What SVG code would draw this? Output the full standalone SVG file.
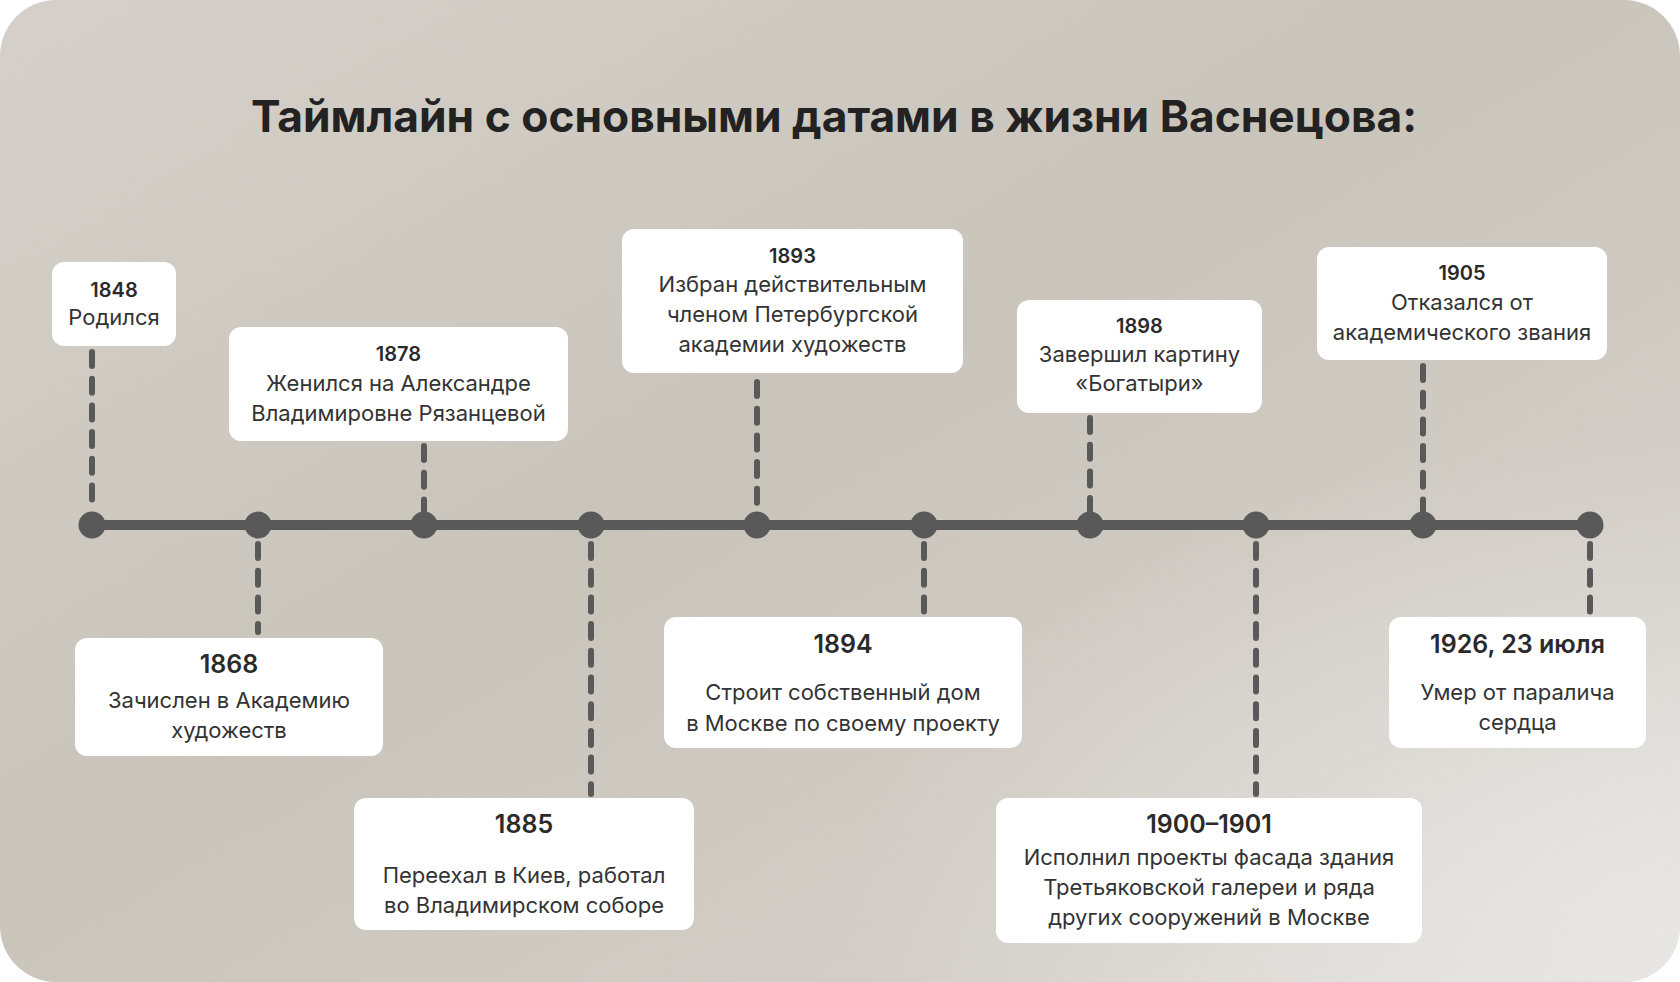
<svg xmlns="http://www.w3.org/2000/svg" width="1680" height="982" viewBox="0 0 1680 982">
  <defs>
    <linearGradient id="bgGrad" x1="0" y1="0" x2="1" y2="1">
      <stop offset="0" stop-color="#d7d3cc"/>
      <stop offset="0.45" stop-color="#cbc6bc"/>
      <stop offset="0.8" stop-color="#d5d1ca"/>
      <stop offset="1" stop-color="#e4e2de"/>
    </linearGradient>
    <radialGradient id="lightBR" cx="1" cy="0.95" r="0.5">
      <stop offset="0" stop-color="#eeecea" stop-opacity="0.9"/>
      <stop offset="1" stop-color="#eeecea" stop-opacity="0"/>
    </radialGradient>
    <filter id="noise" x="0" y="0" width="100%" height="100%">
      <feTurbulence type="fractalNoise" baseFrequency="0.9" numOctaves="2" seed="3" result="n"/>
      <feColorMatrix type="matrix" values="0 0 0 0 0.5  0 0 0 0 0.48  0 0 0 0 0.45  0 0 0 0.18 0"/>
    </filter>
    <clipPath id="bgClip"><rect x="0" y="0" width="1680" height="982" rx="56"/></clipPath>
  </defs>
  <style>
    .box { fill: #ffffff; }
    .yr { font-family: Inter, "Noto Sans", sans-serif; font-weight: 600; fill: #2a2a2a; text-anchor: middle; }
    .yrs { font-size: 20px; }
    .yrl { font-size: 25px; }
    .tx { font-family: Inter, "Noto Sans", sans-serif; font-weight: 400; font-size: 22px; fill: #333333; text-anchor: middle; }
    .dash { stroke: #595959; stroke-width: 6; stroke-linecap: round; stroke-dasharray: 14 12.7; fill: none; }
    .axis { stroke: #595959; stroke-width: 10; stroke-linecap: round; }
    .dot { fill: #595959; }
    .title { font-family: Inter, "Noto Sans", sans-serif; font-weight: 700; font-size: 44.3px; fill: #222222; text-anchor: middle; }
  </style>
  <rect x="0" y="0" width="1680" height="982" fill="#ffffff"/>
  <g clip-path="url(#bgClip)">
    <rect x="0" y="0" width="1680" height="982" fill="url(#bgGrad)"/>
    <rect x="0" y="0" width="1680" height="982" fill="url(#lightBR)"/>
    <rect x="0" y="0" width="1680" height="982" filter="url(#noise)"/>
  </g>

  <text class="title" x="834" y="132">Таймлайн с основными датами в жизни Васнецова:</text>

  <g id="connectors">
    <line class="axis" x1="92" y1="525" x2="1590" y2="525"/>
    <path class="dash" d="M92 352 V512"/>
    <path class="dash" d="M424 446 V512"/>
    <path class="dash" d="M757 382 V512"/>
    <path class="dash" d="M1090 418 V512"/>
    <path class="dash" d="M1423 366 V512"/>
    <path class="dash" d="M258 544 V632"/>
    <path class="dash" d="M591 544 V794"/>
    <path class="dash" d="M924 544 V612"/>
    <path class="dash" d="M1256 544 V794"/>
    <path class="dash" d="M1590 544 V612"/>
    <circle class="dot" cx="92" cy="525" r="13.5"/>
    <circle class="dot" cx="258" cy="525" r="13.5"/>
    <circle class="dot" cx="424" cy="525" r="13.5"/>
    <circle class="dot" cx="591" cy="525" r="13.5"/>
    <circle class="dot" cx="757" cy="525" r="13.5"/>
    <circle class="dot" cx="924" cy="525" r="13.5"/>
    <circle class="dot" cx="1090" cy="525" r="13.5"/>
    <circle class="dot" cx="1256" cy="525" r="13.5"/>
    <circle class="dot" cx="1423" cy="525" r="13.5"/>
    <circle class="dot" cx="1590" cy="525" r="13.5"/>
  </g>

  <g id="n1848">
    <rect class="box" x="52" y="262" width="124" height="84" rx="12"/>
    <text class="yr yrs" x="114" y="297">1848</text>
    <text class="tx" x="114" y="325">Родился</text>
  </g>
  <g id="n1878">
    <rect class="box" x="229" y="327" width="339" height="114" rx="12"/>
    <text class="yr yrs" x="398.5" y="361">1878</text>
    <text class="tx" x="398.5" y="391">Женился на Александре</text>
    <text class="tx" x="398.5" y="421">Владимировне Рязанцевой</text>
  </g>
  <g id="n1893">
    <rect class="box" x="622" y="229" width="341" height="144" rx="12"/>
    <text class="yr yrs" x="792.5" y="263">1893</text>
    <text class="tx" x="792.5" y="292">Избран действительным</text>
    <text class="tx" x="792.5" y="322">членом Петербургской</text>
    <text class="tx" x="792.5" y="352">академии художеств</text>
  </g>
  <g id="n1898">
    <rect class="box" x="1017" y="300" width="245" height="113" rx="12"/>
    <text class="yr yrs" x="1139.5" y="333">1898</text>
    <text class="tx" x="1139.5" y="362">Завершил картину</text>
    <text class="tx" x="1139.5" y="391">«Богатыри»</text>
  </g>
  <g id="n1905">
    <rect class="box" x="1317" y="247" width="290" height="113" rx="12"/>
    <text class="yr yrs" x="1462" y="280">1905</text>
    <text class="tx" x="1462" y="310">Отказался от</text>
    <text class="tx" x="1462" y="340">академического звания</text>
  </g>
  <g id="n1868">
    <rect class="box" x="75" y="638" width="308" height="118" rx="12"/>
    <text class="yr yrl" x="229" y="673">1868</text>
    <text class="tx" x="229" y="708">Зачислен в Академию</text>
    <text class="tx" x="229" y="738">художеств</text>
  </g>
  <g id="n1885">
    <rect class="box" x="354" y="798" width="340" height="132" rx="12"/>
    <text class="yr yrl" x="524" y="833">1885</text>
    <text class="tx" x="524" y="883">Переехал в Киев, работал</text>
    <text class="tx" x="524" y="913">во Владимирском соборе</text>
  </g>
  <g id="n1894">
    <rect class="box" x="664" y="617" width="358" height="131" rx="12"/>
    <text class="yr yrl" x="843" y="653">1894</text>
    <text class="tx" x="843" y="700">Строит собственный дом</text>
    <text class="tx" x="843" y="731">в Москве по своему проекту</text>
  </g>
  <g id="n1900">
    <rect class="box" x="996" y="798" width="426" height="145" rx="12"/>
    <text class="yr yrl" x="1209" y="833">1900–1901</text>
    <text class="tx" x="1209" y="865">Исполнил проекты фасада здания</text>
    <text class="tx" x="1209" y="895">Третьяковской галереи и ряда</text>
    <text class="tx" x="1209" y="925">других сооружений в Москве</text>
  </g>
  <g id="n1926">
    <rect class="box" x="1389" y="617" width="257" height="131" rx="12"/>
    <text class="yr yrl" x="1517.5" y="653">1926, 23 июля</text>
    <text class="tx" x="1517.5" y="700">Умер от паралича</text>
    <text class="tx" x="1517.5" y="730">сердца</text>
  </g>
</svg>
